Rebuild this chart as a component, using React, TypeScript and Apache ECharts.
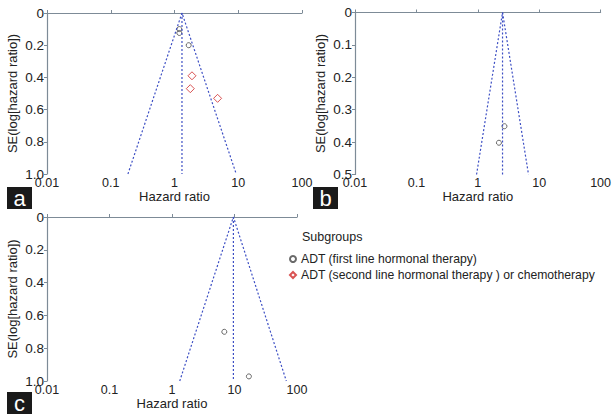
import React, { useEffect, useRef } from "react";
import * as echarts from "echarts";

// Panel a
const aFirstHR = [1.19, 1.19, 1.67];
const aFirstSE = [0.10, 0.124, 0.20];
const aSecondHR = [1.88, 1.77, 4.74];
const aSecondSE = [0.39, 0.47, 0.53];
const aPooled = 1.31;
const aFunnel = [0.186, 9.3];
const aMaxSE = 1.0;

// Panel b
const bFirstHR = [2.72, 2.21];
const bFirstSE = [0.351, 0.402];
const bPooled = 2.53;
const bFunnel = [0.955, 6.7];
const bMaxSE = 0.5;

// Panel c
const cFirstHR = [6.87, 17.0];
const cFirstSE = [0.70, 0.972];
const cPooled = 9.6;
const cFunnel = [1.33, 67.5];
const cMaxSE = 1.0;

const xTicks = [0.01, 0.1, 1, 10, 100];
const panelLetters = ["a", "b", "c"];
const legendTitle = "Subgroups";
const seriesNames = [
  "ADT (first line hormonal therapy)",
  "ADT (second line hormonal therapy ) or chemotherapy",
];

const FONT = "Liberation Sans, Arial, sans-serif";
const TXT = "#222";
const AXIS = "#7d8b97";
const BLUE = "#3d4fc4";

export default function App() {
  const ref = useRef<HTMLDivElement>(null);
  useEffect(() => {
    if (!ref.current) return;
    const chart = echarts.init(ref.current, undefined, { renderer: "svg" });

    const grids = [
      { left: 47, top: 13, width: 255, height: 161 },
      { left: 355, top: 12.5, width: 248, height: 162 },
      { left: 47, top: 217, width: 250, height: 164 },
    ];
    const maxSE = [aMaxSE, bMaxSE, cMaxSE];
    const intervals = [0.2, 0.1, 0.2];

    const xAxes = grids.map((_, i) => ({
      type: "log",
      logBase: 10,
      gridIndex: i,
      min: xTicks[0],
      max: xTicks[xTicks.length - 1],
      name: "Hazard ratio",
      nameLocation: "middle",
      nameGap: 14,
      nameTextStyle: { fontFamily: FONT, fontSize: 13, color: TXT },
      axisLine: { lineStyle: { color: AXIS, width: 1.2 } },
      axisTick: { inside: true, length: 3, lineStyle: { color: AXIS } },
      splitLine: { show: false },
      axisLabel: {
        fontFamily: FONT,
        fontSize: 12.5,
        color: TXT,
        margin: 2,
        formatter: (v: number) => {
          const r = xTicks.find((t) => Math.abs(t - v) / t < 1e-6);
          return r !== undefined ? String(r) : "";
        },
      },
    }));

    const yAxes = grids.map((_, i) => ({
      type: "value",
      gridIndex: i,
      inverse: true,
      min: 0,
      max: maxSE[i],
      interval: intervals[i],
      name: "SE(log[hazard ratio])",
      nameLocation: "middle",
      nameGap: 28,
      nameTextStyle: { fontFamily: FONT, fontSize: 13, color: TXT },
      axisLine: { show: true, lineStyle: { color: AXIS, width: 1.2 } },
      axisTick: { show: true, inside: false, length: 3, lineStyle: { color: AXIS } },
      splitLine: { show: false },
      axisLabel: {
        fontFamily: FONT,
        fontSize: 13.5,
        color: TXT,
        margin: 3,
        formatter: (v: number) => (v === 0 ? "0" : v.toFixed(1)),
      },
    }));

    const circleStyle = { color: "rgba(0,0,0,0)", borderColor: "#444", borderWidth: 1 };
    const diamondStyle = { color: "rgba(0,0,0,0)", borderColor: "#d02828", borderWidth: 1 };

    const funnel = (i: number, pooled: number, f: number[], m: number) => [
      {
        type: "line",
        xAxisIndex: i,
        yAxisIndex: i,
        data: [[f[0], m], [pooled, 0], [f[1], m]],
        symbol: "none",
        lineStyle: { color: BLUE, width: 1.2, type: [2, 2] },
        silent: true,
      },
      {
        type: "line",
        xAxisIndex: i,
        yAxisIndex: i,
        data: [[pooled, 0], [pooled, m]],
        symbol: "none",
        lineStyle: { color: BLUE, width: 1.2, type: [2, 2] },
        silent: true,
      },
    ];

    const pts = (hr: number[], se: number[]) => hr.map((h, k) => [h, se[k]]);

    const series: any[] = [
      ...funnel(0, aPooled, aFunnel, aMaxSE),
      ...funnel(1, bPooled, bFunnel, bMaxSE),
      ...funnel(2, cPooled, cFunnel, cMaxSE),
      {
        type: "scatter", name: seriesNames[0], xAxisIndex: 0, yAxisIndex: 0,
        data: pts(aFirstHR, aFirstSE), symbol: "circle", symbolSize: 5, itemStyle: circleStyle,
      },
      {
        type: "scatter", name: seriesNames[1], xAxisIndex: 0, yAxisIndex: 0,
        data: pts(aSecondHR, aSecondSE), symbol: "diamond", symbolSize: 8, itemStyle: diamondStyle,
      },
      {
        type: "scatter", name: seriesNames[0], xAxisIndex: 1, yAxisIndex: 1,
        data: pts(bFirstHR, bFirstSE), symbol: "circle", symbolSize: 5, itemStyle: circleStyle,
      },
      {
        type: "scatter", name: seriesNames[0], xAxisIndex: 2, yAxisIndex: 2,
        data: pts(cFirstHR, cFirstSE), symbol: "circle", symbolSize: 5, itemStyle: circleStyle,
      },
    ];

    const boxes = [
      { x: 7, y: 187 },
      { x: 313, y: 187 },
      { x: 7, y: 392 },
    ];

    chart.setOption({
      animation: false,
      backgroundColor: "#fff",
      textStyle: { fontFamily: FONT },
      grid: grids,
      xAxis: xAxes,
      yAxis: yAxes,
      series,
      legend: {
        orient: "vertical",
        left: 284,
        top: 248,
        data: seriesNames,
        itemWidth: 6,
        itemHeight: 6,
        itemGap: 4,
        selectedMode: false,
        textStyle: { fontFamily: FONT, fontSize: 12.2, color: TXT },
      },
      graphic: [
        {
          type: "text",
          left: 302,
          top: 230,
          style: { text: legendTitle, fontFamily: FONT, fontSize: 12.5, fill: TXT },
        },
        ...boxes.map((b, i) => ({
          type: "group",
          left: b.x,
          top: b.y,
          children: [
            { type: "rect", shape: { x: 0, y: 0, width: 25, height: 22 }, style: { fill: "#1a1a1a" } },
            {
              type: "text",
              x: 12.5,
              y: 11,
              style: {
                text: panelLetters[i],
                fontFamily: FONT,
                fontSize: 22,
                fill: "#fff",
                align: "center",
                verticalAlign: "middle",
              },
            },
          ],
        })),
      ],
    });
    return () => chart.dispose();
  }, []);
  return (
    <div
      ref={ref}
      style={{ position: "fixed", left: 0, top: 0, width: 614, height: 417 }}
    />
  );
}
